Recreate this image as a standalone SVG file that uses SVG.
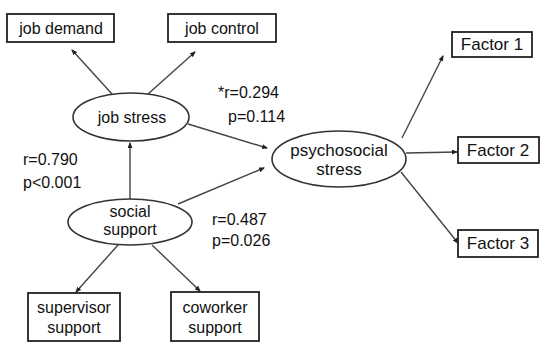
<svg xmlns="http://www.w3.org/2000/svg" width="541" height="343" viewBox="0 0 541 343">
<style>
.box{fill:#fff;stroke:#222;stroke-width:1.8}
.ell{fill:#fff;stroke:#333;stroke-width:1.6}
.t{font-family:"Liberation Sans",Arial,sans-serif;font-size:16px;fill:#111;text-anchor:middle}
.lbl{font-family:"Liberation Sans",Arial,sans-serif;font-size:16px;fill:#111}
.c{stroke:#444;stroke-width:1.4;fill:none;marker-end:url(#ah)}
</style>
<defs>
<marker id="ah" markerUnits="userSpaceOnUse" markerWidth="6" markerHeight="5" refX="5" refY="2.5" orient="auto">
<path d="M0,0 L6,2.5 L0,5 z" fill="#222"/>
</marker>
</defs>
<rect width="541" height="343" fill="#fff"/>
<g id="connectors">
<line class="c" x1="112" y1="94" x2="72" y2="50"/>
<line class="c" x1="148" y1="94" x2="195" y2="52"/>
<line class="c" x1="130" y1="199" x2="130" y2="143"/>
<line class="c" x1="188" y1="124" x2="267" y2="148"/>
<line class="c" x1="178" y1="204" x2="264" y2="168"/>
<line class="c" x1="118" y1="245" x2="76" y2="292"/>
<line class="c" x1="152" y1="245" x2="200" y2="291"/>
<line class="c" x1="402" y1="138" x2="443" y2="56"/>
<line class="c" x1="406" y1="153" x2="457" y2="152"/>
<line class="c" x1="401" y1="172" x2="458" y2="243"/>
</g>
<g id="job-demand"><rect class="box" x="7" y="14" width="107" height="28"/><text class="t" x="61" y="34">job demand</text></g>
<g id="job-control"><rect class="box" x="168" y="14" width="108" height="28"/><text class="t" x="222" y="34">job control</text></g>
<g id="job-stress"><ellipse class="ell" cx="131" cy="117" rx="58" ry="24"/><text class="t" x="132" y="123">job stress</text></g>
<g id="social-support"><ellipse class="ell" cx="130" cy="222" rx="62" ry="23"/><text class="t" x="130" y="217">social</text><text class="t" x="130" y="235">support</text></g>
<g id="psychosocial-stress"><ellipse class="ell" cx="339" cy="159" rx="67" ry="28"/><text class="t" x="339" y="156" style="font-size:17px">psychosocial</text><text class="t" x="339" y="175" style="font-size:17px">stress</text></g>
<g id="supervisor-support"><rect class="box" x="28" y="293" width="92" height="48"/><text class="t" x="74" y="313">supervisor</text><text class="t" x="74" y="333">support</text></g>
<g id="coworker-support"><rect class="box" x="171" y="292" width="88" height="49"/><text class="t" x="215" y="313">coworker</text><text class="t" x="215" y="333">support</text></g>
<g id="factor1"><rect class="box" x="452" y="32" width="80" height="25"/><text class="t" x="492" y="50" style="font-size:17px">Factor 1</text></g>
<g id="factor2"><rect class="box" x="458" y="137" width="81" height="26"/><text class="t" x="498" y="156" style="font-size:17px">Factor 2</text></g>
<g id="factor3"><rect class="box" x="458" y="230" width="80" height="27"/><text class="t" x="498" y="249" style="font-size:17px">Factor 3</text></g>
<g id="labels">
<text class="lbl" x="218" y="98">*r=0.294</text>
<text class="lbl" x="228" y="122">p=0.114</text>
<text class="lbl" x="23" y="165">r=0.790</text>
<text class="lbl" x="23" y="188">p&lt;0.001</text>
<text class="lbl" x="212" y="225">r=0.487</text>
<text class="lbl" x="212" y="246">p=0.026</text>
</g>
</svg>
